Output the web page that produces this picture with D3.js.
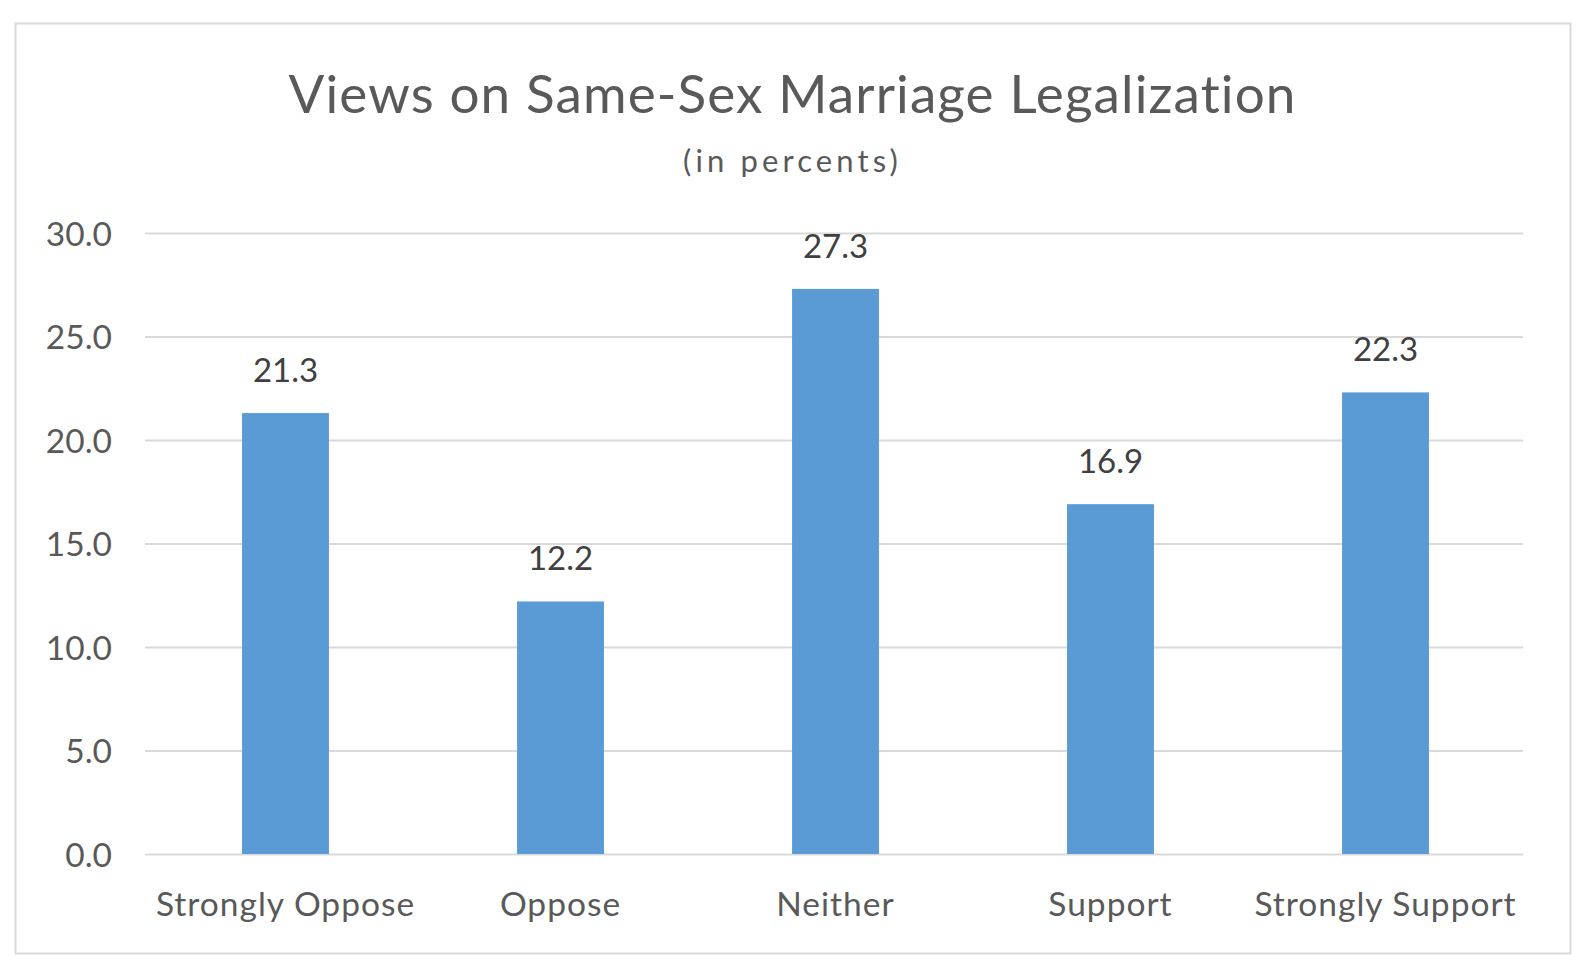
<!DOCTYPE html>
<html>
<head>
<meta charset="utf-8">
<script src="https://cdn.jsdelivr.net/npm/d3@7"></script>
<style>
  html, body { margin: 0; padding: 0; background: #ffffff; }
  svg { display: block; }
  text { font-family: Lato, "Open Sans", sans-serif; }
</style>
</head>
<body>
<svg id="chart" width="1588" height="970"></svg>
<script>
const titleText = "Views on Same-Sex Marriage Legalization";
const subtitleText = "(in percents)";
const categories = ["Strongly Oppose", "Oppose", "Neither", "Support", "Strongly Support"];
const values = [21.3, 12.2, 27.3, 16.9, 22.3];
const yTicks = [0, 5, 10, 15, 20, 25, 30];

const svg = d3.select("#chart");
const W = 1588, H = 970;

svg.append("rect").attr("x", 0).attr("y", 0).attr("width", W).attr("height", H).attr("fill", "#ffffff");

// chart border
svg.append("rect")
  .attr("x", 15.5).attr("y", 23.5)
  .attr("width", 1555).attr("height", 930)
  .attr("fill", "#ffffff")
  .attr("stroke", "#d9d9d9")
  .attr("stroke-width", 2);

const x = d3.scaleBand().domain(categories).range([148, 1523]).paddingInner(0.684).paddingOuter(0.342);
const y = d3.scaleLinear().domain([0, 30]).range([854, 233]);

// gridlines
const grid = svg.append("g").attr("class", "grid")
  .attr("transform", "translate(145,0)")
  .call(d3.axisLeft(y).tickValues(yTicks).tickSize(-1378).tickFormat(""));
grid.select(".domain").remove();
grid.selectAll("line").attr("stroke", "#d9d9d9").attr("stroke-width", 2);

// y tick labels
const yAxis = svg.append("g")
  .attr("transform", "translate(145,0)")
  .call(d3.axisLeft(y).tickValues(yTicks).tickSize(0).tickPadding(33).tickFormat(d3.format(".1f")));
yAxis.select(".domain").remove();
yAxis.selectAll("text")
  .attr("fill", "#595959")
  .style("font-size", "33.5px")
  .attr("dy", "0.36em");

// bars
svg.append("g").selectAll("rect")
  .data(values)
  .join("rect")
  .attr("x", (d, i) => x(categories[i]))
  .attr("y", d => y(d))
  .attr("width", x.bandwidth())
  .attr("height", d => y(0) - y(d))
  .attr("fill", "#5b9bd5");

// data labels
svg.append("g").selectAll("text")
  .data(values)
  .join("text")
  .attr("x", (d, i) => x(categories[i]) + x.bandwidth() / 2)
  .attr("y", d => y(d) - 31)
  .attr("text-anchor", "middle")
  .attr("fill", "#404040")
  .style("font-size", "33px")
  .text(d => d3.format(".1f")(d));

// x axis labels
const xAxis = svg.append("g")
  .attr("transform", "translate(0,854)")
  .call(d3.axisBottom(x).tickSize(0).tickPadding(0));
xAxis.select(".domain").remove();
xAxis.selectAll("text")
  .attr("y", 62)
  .attr("dy", 0)
  .attr("fill", "#595959")
  .style("font-size", "33.5px")
  .style("letter-spacing", "1px");

// title
const title = svg.append("text")
  .attr("x", 792.5).attr("y", 113)
  .attr("text-anchor", "middle")
  .attr("fill", "#595959")
  .style("font-size", "53px")
  .text(titleText);
(function fit(sel, target) {
  const w = sel.node().getComputedTextLength();
  const n = sel.text().length;
  const ls = (target - w) / n;
  sel.style("letter-spacing", ls + "px");
})(title, 1009);

const sub = svg.append("text")
  .attr("x", 792.5).attr("y", 172)
  .attr("text-anchor", "middle")
  .attr("fill", "#595959")
  .style("font-size", "31px")
  .text(subtitleText);
(function fit(sel, target) {
  const w = sel.node().getComputedTextLength();
  const n = sel.text().length;
  const ls = (target - w) / n;
  sel.style("letter-spacing", ls + "px");
})(sub, 219);
</script>
</body>
</html>
